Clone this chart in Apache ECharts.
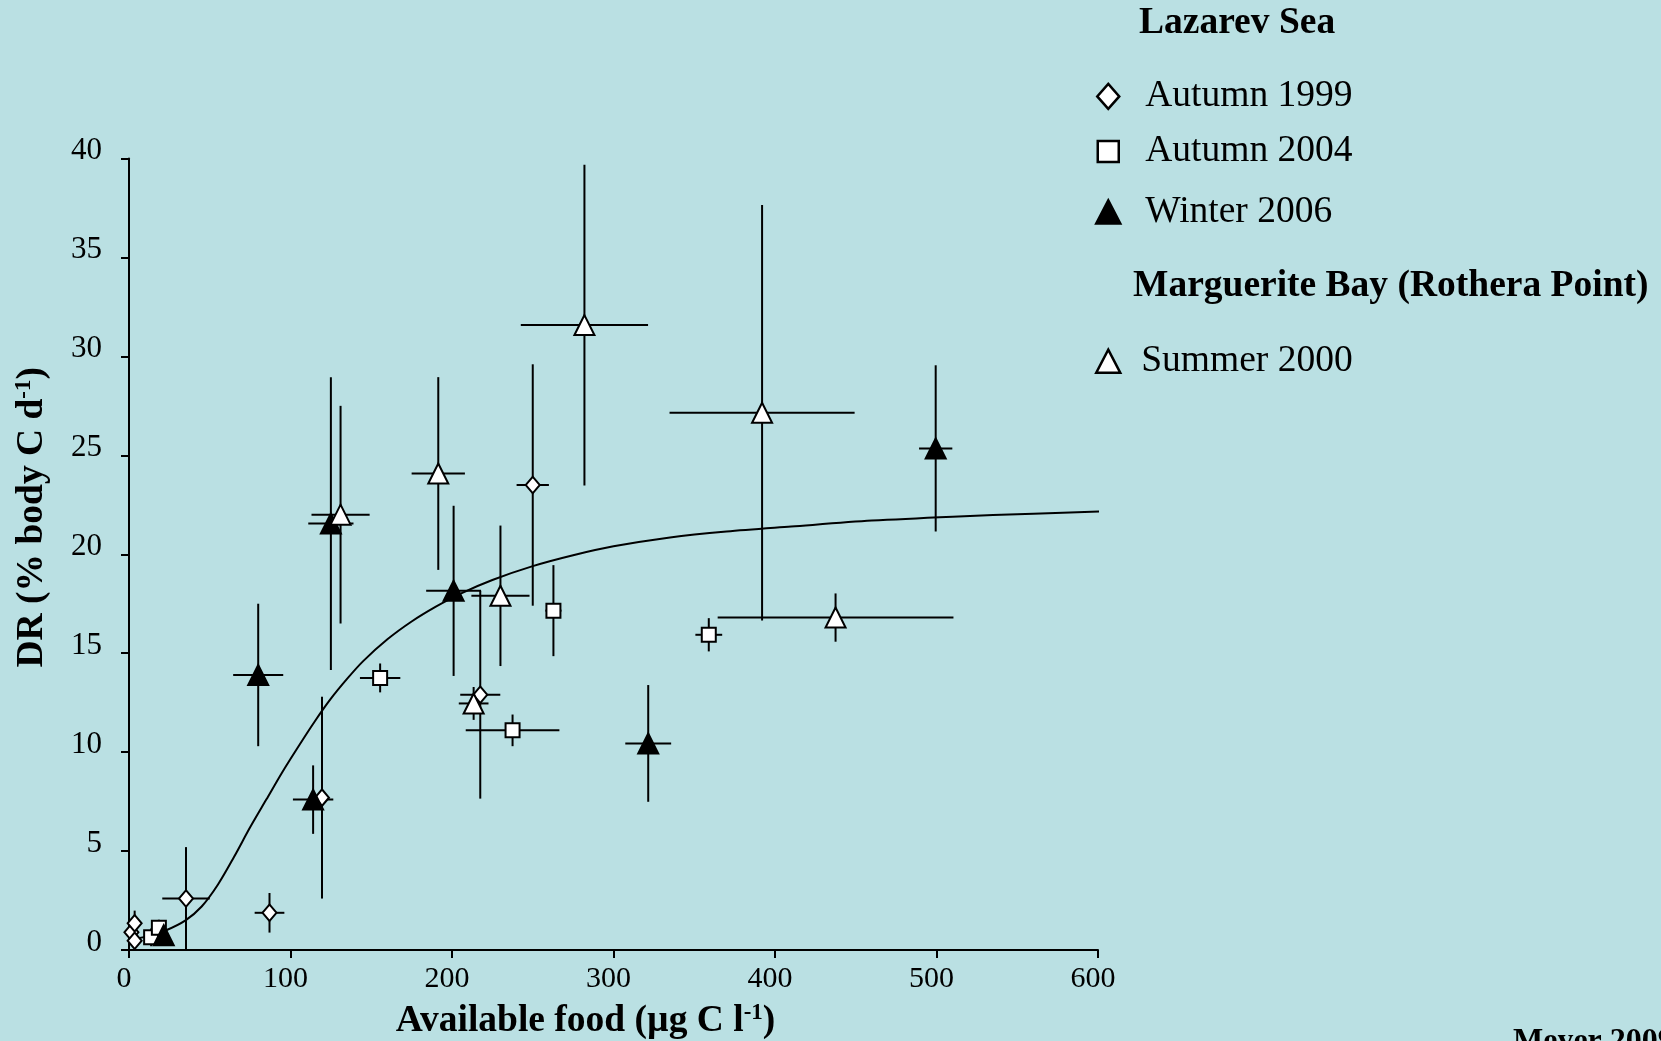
<!DOCTYPE html>
<html>
<head>
<meta charset="utf-8">
<title>DR vs available food</title>
<script src="https://cdn.jsdelivr.net/npm/echarts@6/dist/echarts.min.js"></script>
<style>
  html, body { margin: 0; padding: 0; background: #bae0e3; }
  #chart { width: 1661px; height: 1041px; }
</style>
</head>
<body>
<div id="chart"></div>
<script>
// rows are [food, DR, food error, DR error]
const autumn1999 = [
  [1.5, 0.9, 0, 0],
  [3.5, 0.47, 0, 0],
  [3.5, 1.35, 0, 0.64],
  [35.3, 2.6, 14.7, 2.6],
  [87, 1.88, 9.2, 1.0],
  [119.5, 7.7, 4, 5.1],
  [217.5, 12.9, 12.4, 5.25],
  [250, 23.5, 10, 6.1]
];
const autumn2004 = [
  [13.7, 0.64, 0, 0.45],
  [18.5, 1.13, 0, 0.4],
  [155.5, 13.75, 12.5, 0.73],
  [237.5, 11.1, 29, 0.8],
  [262.8, 17.15, 5, 2.3],
  [359, 15.93, 8.3, 0.84]
];
const winter2006 = [
  [21.5, 0.75, 0, 0],
  [80, 13.9, 15.5, 3.6],
  [114, 7.6, 12.5, 1.73],
  [125, 21.55, 14, 7.4],
  [201, 18.15, 17, 4.3],
  [321.5, 10.44, 14.2, 2.95],
  [499.5, 25.35, 10.3, 4.2]
];
const summer2000 = [
  [131, 22.0, 18, 5.5],
  [191.5, 24.08, 16.5, 4.87],
  [213.4, 12.46, 9.2, 0.83],
  [230, 17.9, 18, 3.55],
  [282, 31.58, 39.4, 8.1],
  [392, 27.15, 57.3, 10.5],
  [437.5, 16.8, 73, 1.22]
];

// fitted curve
const curveX = [3, 12, 23, 35, 45, 55, 65, 75, 85, 95, 105, 115, 125, 135, 145, 160, 175, 190, 205, 225, 250, 275, 300, 335, 370, 410, 460, 510, 560, 602];
const curveY = [0.55, 0.7, 1.0, 1.5, 2.2, 3.3, 4.7, 6.2, 7.6, 9.0, 10.3, 11.55, 12.7, 13.7, 14.6, 15.7, 16.6, 17.35, 18.0, 18.7, 19.4, 19.95, 20.4, 20.85, 21.15, 21.4, 21.7, 21.9, 22.05, 22.17];

const xTicks = [0, 100, 200, 300, 400, 500, 600];
const yTicks = [0, 5, 10, 15, 20, 25, 30, 35, 40];

const serif = '"Liberation Serif", "Times New Roman", serif';
const bigFont = 37.5;

const chart = echarts.init(document.getElementById('chart'));

function renderErr(params, api) {
  const x = api.value(0), y = api.value(1), ex = api.value(2), ey = api.value(3);
  const style = { stroke: '#000', lineWidth: 2 };
  const children = [];
  if (ex > 0) {
    const a = api.coord([x - ex, y]), b = api.coord([x + ex, y]);
    children.push({ type: 'line', shape: { x1: a[0], y1: a[1], x2: b[0], y2: b[1] }, style });
  }
  if (ey > 0) {
    const a = api.coord([x, Math.max(0, y - ey)]), b = api.coord([x, y + ey]);
    children.push({ type: 'line', shape: { x1: a[0], y1: a[1], x2: b[0], y2: b[1] }, style });
  }
  return { type: 'group', children };
}

const errRows = [].concat(autumn1999, autumn2004, winter2006, summer2000);

// icon centred at (1107, iconY), text centred a little higher at textY
function legendFor(name, w, h, iconY, textY, textX) {
  const pad = Math.max(0, 2 * (iconY - textY));
  return {
    data: [name],
    selectedMode: false,
    orient: 'vertical',
    left: 1107 - w / 2,
    top: iconY - (42 + pad) / 2,
    padding: 0,
    itemWidth: w,
    itemHeight: h,
    itemStyle: { borderColor: '#000', borderWidth: 2.5 },
    textStyle: {
      fontFamily: serif, fontSize: bigFont, color: '#000', lineHeight: 42,
      padding: [0, 0, pad, textX - 1112 - w / 2]
    }
  };
}

const supStyle = { fontFamily: serif, fontSize: 23, fontWeight: 'bold', color: '#000', verticalAlign: 'top' };

const option = {
  backgroundColor: '#bae0e3',
  animation: false,
  grid: { left: 129, right: 563, top: 158.5, bottom: 91, containLabel: false, outerBoundsMode: 'none' },
  xAxis: {
    type: 'value',
    min: xTicks[0],
    max: xTicks[xTicks.length - 1],
    interval: 100,
    name: 'Available food (µg C l{sup|-1})',
    nameLocation: 'middle',
    nameGap: 52,
    nameTextStyle: {
      fontFamily: serif, fontSize: bigFont, fontWeight: 'bold', color: '#000',
      padding: [0, 56, 0, 0],
      rich: { sup: supStyle }
    },
    axisLine: { show: true, onZero: false, lineStyle: { color: '#000', width: 2 } },
    axisTick: { show: true, length: 8, lineStyle: { color: '#000', width: 2 } },
    axisLabel: { fontFamily: serif, fontSize: 30, color: '#000', margin: 14, padding: [0, 10, 0, 0] },
    splitLine: { show: false }
  },
  yAxis: {
    type: 'value',
    min: yTicks[0],
    max: yTicks[yTicks.length - 1],
    interval: 5,
    name: 'DR (% body C d{sup|-1})',
    nameLocation: 'middle',
    nameRotate: 90,
    nameGap: 78,
    nameTextStyle: {
      fontFamily: serif, fontSize: bigFont, fontWeight: 'bold', color: '#000',
      padding: [0, 0, 0, 74],
      rich: { sup: supStyle }
    },
    axisLine: { show: true, onZero: false, lineStyle: { color: '#000', width: 2 } },
    axisTick: { show: true, length: 8, lineStyle: { color: '#000', width: 2 } },
    axisLabel: {
      fontFamily: serif, fontSize: 31, color: '#000', margin: 27,
      verticalAlign: 'bottom', lineHeight: 15
    },
    splitLine: { show: false }
  },
  legend: [
    legendFor('Autumn 1999', 22, 25, 96.4, 92.2, 1144),
    legendFor('Autumn 2004', 21, 21, 151.5, 141.3, 1144),
    legendFor('Winter 2006', 24, 23, 211.9, 208.7, 1144),
    legendFor('Summer 2000', 24, 23, 361.2, 357, 1140)
  ],
  graphic: [
    { type: 'text', left: 1139, top: 4, style: { text: 'Lazarev Sea', font: 'bold ' + bigFont + 'px ' + serif, fill: '#000' } },
    { type: 'text', left: 1133, top: 267, style: { text: 'Marguerite Bay (Rothera Point)', font: 'bold ' + bigFont + 'px ' + serif, fill: '#000' } },
    { type: 'text', left: 1513, top: 1026, style: { text: 'Meyer 2009', font: 'bold 32px ' + serif, fill: '#000' } }
  ],
  series: [
    {
      name: 'errors',
      type: 'custom',
      renderItem: renderErr,
      data: errRows,
      encode: { x: 0, y: 1 },
      silent: true,
      z: 1
    },
    {
      name: 'fit',
      type: 'line',
      data: curveX.map((x, i) => [x, curveY[i]]),
      smooth: 0.3,
      showSymbol: false,
      lineStyle: { color: '#000', width: 2 },
      silent: true,
      z: 2
    },
    {
      name: 'Autumn 1999',
      type: 'scatter',
      data: autumn1999.map(r => [r[0], r[1]]),
      symbol: 'diamond',
      symbolSize: [14, 16.5],
      itemStyle: { color: '#fff', borderColor: '#000', borderWidth: 2, opacity: 1 },
      silent: true,
      z: 3
    },
    {
      name: 'Autumn 2004',
      type: 'scatter',
      data: autumn2004.map(r => [r[0], r[1]]),
      symbol: 'rect',
      symbolSize: 14,
      itemStyle: { color: '#fff', borderColor: '#000', borderWidth: 2, opacity: 1 },
      silent: true,
      z: 3
    },
    {
      name: 'Winter 2006',
      type: 'scatter',
      data: winter2006.map(r => [r[0], r[1]]),
      symbol: 'triangle',
      symbolSize: [20, 20],
      itemStyle: { color: '#000', borderColor: '#000', borderWidth: 2, opacity: 1 },
      silent: true,
      z: 3
    },
    {
      name: 'Summer 2000',
      type: 'scatter',
      data: summer2000.map(r => [r[0], r[1]]),
      symbol: 'triangle',
      symbolSize: [20, 20],
      itemStyle: { color: '#fff', borderColor: '#000', borderWidth: 2, opacity: 1 },
      silent: true,
      z: 3
    }
  ]
};

chart.setOption(option);
</script>
</body>
</html>
